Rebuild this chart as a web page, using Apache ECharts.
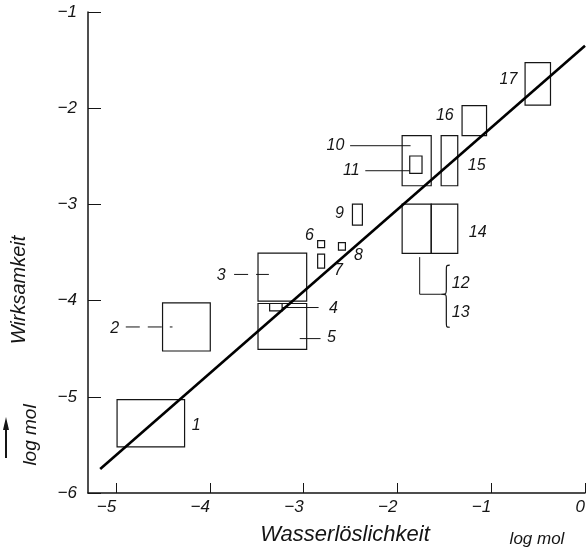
<!DOCTYPE html>
<html><head><meta charset="utf-8">
<script src="https://cdn.jsdelivr.net/npm/echarts@6/dist/echarts.min.js"></script>
<style>html,body{margin:0;padding:0;background:#fff}#c{width:588px;height:550px}</style>
</head><body><div id="c"></div>
<script>
// ---- data (log mol) ----
const xTicks = [-5, -4, -3, -2, -1, 0];
const yTicks = [-6, -5, -4, -3, -2, -1];

// measurement boxes: [xMin, xMax, yMin, yMax]
const boxIds = ['1','2','3','4','5','6','7','8','9','10','11','14a','14b','15','16','17'];
const boxes = [
  [-4.99, -4.27, -5.52, -5.03],
  [-4.505, -3.996, -4.524, -4.024],
  [-3.487, -2.968, -4.006, -3.507],
  [-3.363, -3.230, -4.107, -4.03],
  [-3.487, -2.968, -4.506, -4.03],
  [-2.851, -2.777, -3.450, -3.377],
  [-2.851, -2.777, -3.663, -3.517],
  [-2.629, -2.555, -3.476, -3.397],
  [-2.480, -2.374, -3.215, -2.997],
  [-1.950, -1.640, -2.806, -2.286],
  [-1.869, -1.738, -2.677, -2.497],
  [-1.950, -1.640, -3.510, -2.997],
  [-1.640, -1.357, -3.510, -2.997],
  [-1.534, -1.357, -2.806, -2.286],
  [-1.311, -1.050, -2.286, -1.973],
  [-0.639, -0.368, -1.969, -1.526]
];

// regression line
const fitLine = [[-5.17, -5.75], [0, -1.35]];

// number labels
const labelTexts = ['1','2','3','4','5','6','7','8','9','10','11','12','13','14','15','16','17'];
const labelPos = [
  [-4.145, -5.298], [-5.014, -4.288], [-3.880, -3.736], [-2.682, -4.08],
  [-2.703, -4.381], [-2.939, -3.319], [-2.629, -3.69], [-2.417, -3.528],
  [-2.618, -3.096], [-2.661, -2.393], [-2.491, -2.653], [-1.325, -3.819],
  [-1.325, -4.121], [-1.145, -3.288], [-1.155, -2.601], [-1.495, -2.080],
  [-0.816, -1.705]
];

// leader lines
const solidLeaders = [
  [[-3.230, -4.072], [-2.841, -4.072]],
  [[-3.042, -4.395], [-2.820, -4.395]],
  [[-2.505, -2.390], [-1.860, -2.390]],
  [[-2.343, -2.650], [-1.869, -2.650]],
  [[-1.763, -3.548], [-1.763, -3.934], [-1.537, -3.934]]
];
const dashedLeaders = [
  [[-4.897, -4.274], [-4.399, -4.274]],
  [[-3.742, -3.728], [-3.371, -3.728]]
];
// brace for 12/13: tip, top end, bottom end
const braces = [[[-1.537, -3.934], [-1.442, -3.632], [-1.442, -4.277]]];

const FONT = '"Liberation Sans", Arial, sans-serif';
const INK = '#151515';

function fmt(v) { return v < 0 ? '\u2212' + Math.abs(v) : String(v); }

function polyRender(list, dashed) {
  return function (params, api) {
    const pts = list[params.dataIndex].map(p => api.coord(p));
    return {
      type: 'polyline', shape: { points: pts },
      style: { fill: 'none', stroke: INK, lineWidth: 1, lineDash: dashed ? [14, 8] : null }
    };
  };
}

const chart = echarts.init(document.getElementById('c'), null, { renderer: 'canvas' });
chart.setOption({
  animation: false,
  backgroundColor: '#fff',
  grid: { left: 88, right: 0, top: 12, bottom: 57, containLabel: false },
  xAxis: {
    type: 'value', min: -5.3, max: 0,
    axisLine: { show: true, onZero: false, lineStyle: { color: INK, width: 1.5 } },
    axisTick: { show: true, inside: true, length: 10, customValues: xTicks, lineStyle: { color: INK, width: 1 } },
    axisLabel: {
      customValues: xTicks, formatter: fmt, align: 'right', margin: 6,
      fontFamily: FONT, fontStyle: 'italic', fontSize: 17, color: INK
    },
    splitLine: { show: false }
  },
  yAxis: {
    type: 'value', min: -6, max: -1,
    axisLine: { show: true, onZero: false, lineStyle: { color: INK, width: 1.5 } },
    axisTick: { show: true, inside: true, length: 13, customValues: yTicks, lineStyle: { color: INK, width: 1 } },
    axisLabel: {
      customValues: yTicks, formatter: fmt, margin: 11,
      fontFamily: FONT, fontStyle: 'italic', fontSize: 17, color: INK
    },
    splitLine: { show: false }
  },
  graphic: [
    { type: 'text', x: 19, y: 290, rotation: Math.PI / 2,
      style: { text: 'Wirksamkeit', align: 'center', verticalAlign: 'middle',
        fontFamily: FONT, fontStyle: 'italic', fontSize: 20, fill: INK } },
    { type: 'text', x: 31, y: 435, rotation: Math.PI / 2,
      style: { text: 'log mol', align: 'center', verticalAlign: 'middle',
        fontFamily: FONT, fontStyle: 'italic', fontSize: 19, fill: INK } },
    { type: 'line', shape: { x1: 6, y1: 458, x2: 6, y2: 426 }, style: { stroke: INK, lineWidth: 2 } },
    { type: 'polygon', shape: { points: [[3, 430], [9, 430], [6, 417]] }, style: { fill: INK } },
    { type: 'text', x: 345, y: 535,
      style: { text: 'Wasserlöslichkeit', align: 'center', verticalAlign: 'middle',
        fontFamily: FONT, fontStyle: 'italic', fontSize: 22, fill: INK } },
    { type: 'text', x: 537, y: 539,
      style: { text: 'log mol', align: 'center', verticalAlign: 'middle',
        fontFamily: FONT, fontStyle: 'italic', fontSize: 17, fill: INK } }
  ],
  series: [
    {
      type: 'custom', name: 'boxes', coordinateSystem: 'cartesian2d', silent: true, z: 2,
      data: boxes, encode: { x: [0, 1], y: [2, 3] },
      renderItem(params, api) {
        const p0 = api.coord([api.value(0), api.value(3)]);
        const p1 = api.coord([api.value(1), api.value(2)]);
        return { type: 'rect',
          shape: { x: p0[0], y: p0[1], width: p1[0] - p0[0], height: p1[1] - p0[1] },
          style: { fill: 'none', stroke: INK, lineWidth: 1.2 } };
      }
    },
    {
      type: 'custom', name: 'solidLeaders', coordinateSystem: 'cartesian2d', silent: true, z: 2,
      data: solidLeaders.map(l => l[0]), renderItem: polyRender(solidLeaders, false)
    },
    {
      type: 'custom', name: 'dashedLeaders', coordinateSystem: 'cartesian2d', silent: true, z: 2,
      data: dashedLeaders.map(l => l[0]), renderItem: polyRender(dashedLeaders, true)
    },
    {
      type: 'custom', name: 'brace', coordinateSystem: 'cartesian2d', silent: true, z: 2,
      data: braces.map(b => b[0]),
      renderItem(params, api) {
        const b = braces[params.dataIndex];
        const tip = api.coord(b[0]), top = api.coord(b[1]), bot = api.coord(b[2]);
        const xl = tip[0], xr = top[0], xm = (xl + xr) / 2 + 1, c = tip[1], t = top[1], bo = bot[1], r = 5;
        const d = `M${xr},${t} C${xm},${t} ${xm},${t} ${xm},${t + r} L${xm},${c - r} C${xm},${c} ${xm},${c} ${xl},${c} ` +
                  `C${xm},${c} ${xm},${c} ${xm},${c + r} L${xm},${bo - r} C${xm},${bo} ${xm},${bo} ${xr},${bo}`;
        return { type: 'path', shape: { pathData: d }, style: { fill: 'none', stroke: INK, lineWidth: 1.2 } };
      }
    },
    {
      type: 'line', name: 'fit', data: fitLine, showSymbol: false, symbol: 'none', clip: true, z: 3,
      lineStyle: { color: '#000', width: 2.6 }, silent: true
    },
    {
      type: 'custom', name: 'labels', coordinateSystem: 'cartesian2d', silent: true, z: 4,
      data: labelPos,
      renderItem(params, api) {
        const p = api.coord([api.value(0), api.value(1)]);
        return { type: 'text', x: p[0], y: p[1],
          style: { text: labelTexts[params.dataIndex], align: 'center', verticalAlign: 'middle',
            fontFamily: FONT, fontStyle: 'italic', fontSize: 16, fill: INK } };
      }
    }
  ]
});
</script>
</body></html>
